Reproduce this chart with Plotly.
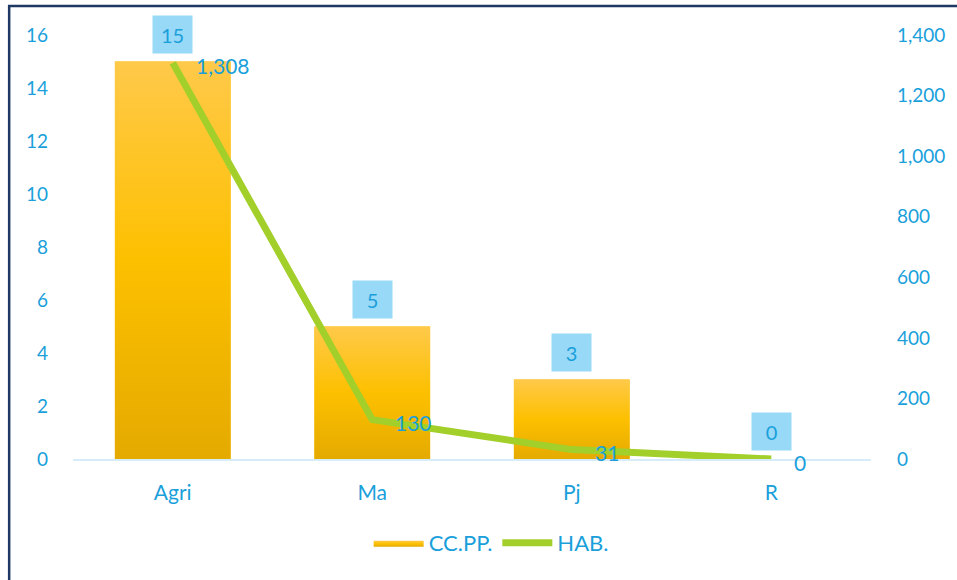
import plotly.graph_objects as go

categories = ["Agri", "Ma", "Pj", "R"]
ccpp_values = [15, 5, 3, 0]
hab_values = [1308, 130, 31, 0]
left_ticks = [0, 2, 4, 6, 8, 10, 12, 14, 16]
right_ticks = [0, 200, 400, 600, 800, 1000, 1200, 1400]

BLUE = "#1A9FDB"
FONT = "Lato"
BAR_W = 0.58
GRADIENT = [[0, "#E4AA00"], [0.5, "#FDC000"], [1, "#FFC94A"]]

PW, PH = 800, 424
L, T = 73, 35
W, H = 957, 580
R = W - L - PW
B = H - T - PH

idx = list(range(len(categories)))

fig = go.Figure()
fig.add_trace(go.Bar(
    x=idx, y=ccpp_values, name="CC.PP.",
    marker=dict(color="#FDC000", line=dict(width=0)),
    width=BAR_W, yaxis="y", showlegend=False, legendgroup="cc",
))
# vertical gradient fill over each bar (coordinates derived from the data)
first = True
for i, v in zip(idx, ccpp_values):
    if v <= 0:
        continue
    x0, x1 = i - BAR_W / 2, i + BAR_W / 2
    fig.add_trace(go.Scatter(
        x=[x0, x1, x1, x0, x0], y=[0, 0, v, v, 0], mode="lines",
        line=dict(width=0), fill="toself", name="CC.PP.", legendgroup="cc",
        fillgradient=dict(type="vertical", colorscale=GRADIENT),
        showlegend=first, hoverinfo="skip", yaxis="y",
    ))
    first = False
fig.add_trace(go.Scatter(
    x=idx, y=hab_values, name="HAB.", mode="lines",
    line=dict(color="#A3CF2A", width=7), yaxis="y2",
))

ann = []
for i, v in zip(idx, ccpp_values):
    ann.append(dict(x=i, y=v, xref="x", yref="y", text=str(v), showarrow=False,
                    yanchor="bottom", yshift=8, bgcolor="#97D9F7",
                    width=27, height=25, borderpad=6,
                    font=dict(family=FONT, size=20, color=BLUE)))
for i, v in zip(idx, hab_values):
    ann.append(dict(x=i, y=v, xref="x", yref="y2", text=f"{v:,}", showarrow=False,
                    xanchor="left", xshift=21, yshift=-3,
                    font=dict(family=FONT, size=21, color=BLUE)))

fig.update_layout(
    width=W, height=H,
    margin=dict(l=L, r=R, t=T, b=B),
    paper_bgcolor="white", plot_bgcolor="white",
    font=dict(family=FONT, size=19, color=BLUE),
    xaxis=dict(range=[-0.5, 3.5], tickvals=idx, ticktext=categories,
               showline=True, linecolor="#D6ECF8", linewidth=2,
               showgrid=False, zeroline=False, ticks="", ticklabelstandoff=14,
               tickfont=dict(family=FONT, size=21, color=BLUE)),
    yaxis=dict(range=[0, 16], tickvals=left_ticks, showgrid=False, zeroline=False,
               showline=False, ticks="", ticklabelstandoff=24,
               tickfont=dict(family=FONT, size=19, color=BLUE)),
    yaxis2=dict(range=[0, 1400], tickvals=right_ticks, overlaying="y", side="right",
                showgrid=False, zeroline=False, showline=False, ticks="",
                tickformat=",d", ticklabelstandoff=25,
                tickfont=dict(family=FONT, size=19, color=BLUE)),
    legend=dict(orientation="h", x=0.524, xanchor="center", y=-0.198, yanchor="middle",
                font=dict(family=FONT, size=22, color=BLUE), itemwidth=50,
                traceorder="normal"),
    annotations=ann,
    shapes=[dict(type="rect", xref="paper", yref="paper",
                 x0=(9 - L) / PW, x1=(975 - L) / PW,
                 y0=(459 - 600) / PH, y1=(459 - 6) / PH,
                 line=dict(color="#1F3864", width=2.5), fillcolor="rgba(0,0,0,0)",
                 layer="below")],
)

fig.write_html("out.html", config={"displayModeBar": False},
               post_script="document.body.style.margin='0';")
